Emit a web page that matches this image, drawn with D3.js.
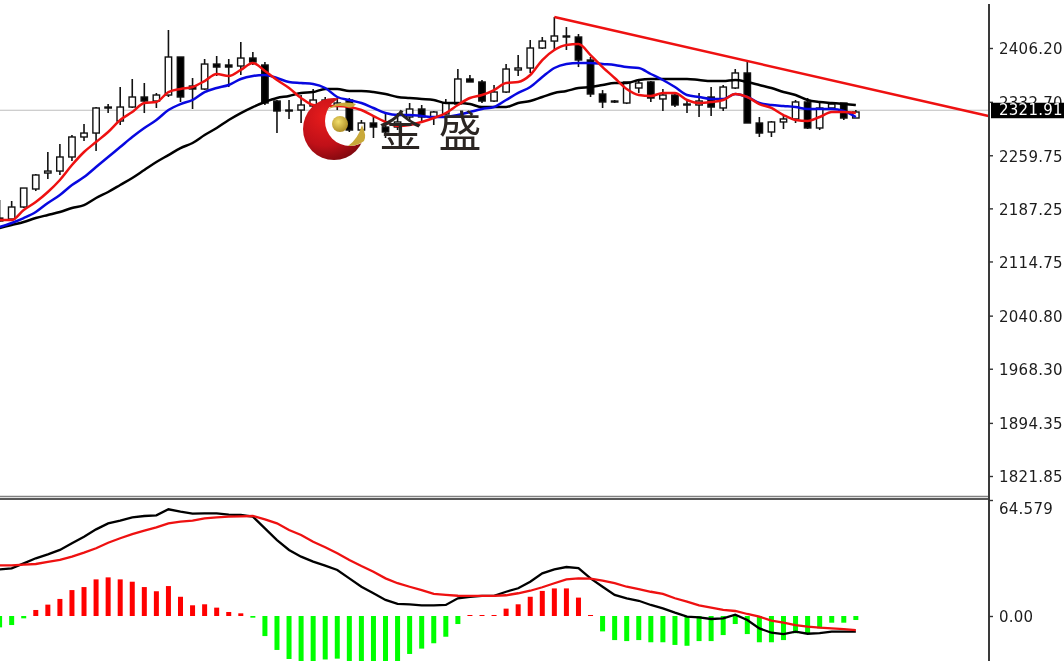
<!DOCTYPE html>
<html><head><meta charset="utf-8">
<script src="https://cdn.jsdelivr.net/npm/d3@7"></script>
<style>html,body{margin:0;padding:0;background:#fff;overflow:hidden}svg{display:block;filter:blur(0.35px)}</style>
</head><body><svg id="c" width="1064" height="661"></svg>
<script>
const openP=[2174,2172.7,2189.1,2213.7,2235.5,2238.2,2257.4,2284.7,2290.1,2325.6,2306.5,2325.6,2339.3,2333.8,2342,2393.9,2354.3,2350.2,2384.3,2383,2381.6,2392.5,2383,2333.8,2321.5,2321.5,2327,2329.7,2327,2335.2,2294.2,2303.8,2298.3,2298.3,2312,2322.9,2312,2316.1,2329.7,2363.9,2359.8,2333.8,2346.1,2376.2,2378.9,2406.2,2415.7,2422.6,2421.2,2389.8,2343.4,2333.8,2331.1,2351.6,2359.8,2336.6,2342,2329.7,2328.4,2339.3,2324.3,2351.6,2372.1,2303.8,2291.5,2305.2,2309.3,2332.5,2297,2324.3,2331.1,2310.6];
const closeP=[2170,2189.1,2215,2232.8,2238.2,2257.4,2284.7,2290.1,2324.3,2324.3,2325.6,2339.3,2333.8,2342,2393.9,2339.3,2350.2,2384.3,2380.2,2380.2,2392.5,2387.1,2331.1,2320.2,2320.2,2328.4,2335.2,2335.2,2331.1,2294.2,2303.8,2298.3,2291.5,2305.2,2322.9,2312,2318.8,2331.1,2363.9,2359.8,2333.8,2346.1,2377.5,2378.9,2406.2,2415.7,2422.6,2421.2,2389.8,2343.4,2332.5,2332.5,2359.8,2358.4,2337.9,2342,2328.4,2328.4,2333.8,2325.6,2352.9,2372.1,2303.8,2290.1,2305.2,2309.3,2332.5,2297,2324.3,2329.7,2310.6,2318.8];
const highP=[2198.6,2197.3,2215,2234.2,2264.2,2275.1,2287.4,2302.4,2325.6,2329.7,2352.9,2363.9,2358.4,2344.8,2430.8,2393.9,2365.2,2391.2,2395.3,2391.2,2414.4,2400.7,2387.1,2335.2,2335.2,2342,2350.2,2339.3,2337.9,2337.9,2307.9,2312,2317.4,2317.4,2331.1,2328.4,2320.2,2336.6,2377.5,2369.3,2362.5,2355.7,2384.3,2396.6,2417.1,2421.2,2448.5,2434.8,2425.3,2393.9,2348.8,2335.2,2359.8,2362.5,2361.1,2350.2,2344.8,2335.2,2344.8,2352.9,2355.7,2377.5,2387.1,2312,2306.5,2314.7,2335.2,2337.9,2333.8,2332.5,2331.1,2321.5];
const lowP=[2168.6,2171.3,2187.7,2210.9,2227.3,2232.8,2251.9,2279.2,2265.5,2317.4,2301.1,2324.3,2317.4,2324.3,2339.3,2332.5,2322.9,2348.8,2368,2352.9,2369.3,2383,2328.4,2290.1,2309.3,2303.8,2321.5,2318.8,2321.5,2291.5,2290.1,2283.3,2283.3,2294.2,2305.2,2303.8,2301.1,2314.7,2328.4,2359.8,2331.1,2332.5,2344.8,2368,2372.1,2404.8,2403.5,2403.5,2380.2,2339.3,2324.3,2331.1,2329.7,2344.8,2332.5,2320.2,2325.6,2317.4,2312,2313.3,2320.2,2350.2,2303.8,2284.7,2284.7,2295.6,2303.8,2295.6,2294.2,2322.9,2307.9,2310.6];
const maFast=[2171.3,2171.3,2185,2195.9,2209.6,2226,2246.4,2264.2,2277.9,2291.5,2307.9,2318.8,2331.1,2332.5,2346.1,2350.2,2352.9,2361.1,2370.7,2368,2376.2,2385.7,2374.8,2362.5,2351.6,2337.9,2328.4,2327,2327,2325.6,2321.5,2313.3,2305.2,2299.7,2301.1,2305.2,2310.6,2317.4,2328.4,2337.9,2342,2348.8,2358.4,2359.8,2369.3,2389.8,2403.5,2410.3,2411.6,2396.6,2380.2,2365.2,2350.2,2342,2340.7,2344.8,2344.8,2335.2,2331.1,2332.5,2335.2,2343.4,2339.3,2329.7,2324.3,2314.7,2307.9,2306.5,2312,2318.8,2318.8,2317.4];
const maMid=[2161.8,2167.3,2174,2182.3,2194.6,2205.5,2219.1,2230,2243.7,2257.4,2271,2284.7,2297,2307.9,2321.5,2329.7,2335.2,2346.1,2351.6,2355.7,2363.9,2368,2369.3,2365.2,2359.8,2358.4,2357,2351.6,2339.3,2335.2,2331.1,2324.3,2317.4,2314.7,2314.7,2313.3,2312,2312,2314.7,2318.8,2322.9,2325.6,2335.2,2344.8,2352.9,2366.6,2378.9,2384.3,2385.7,2385.7,2384.3,2383,2380.2,2378.9,2370.7,2362.5,2352.9,2342,2339.3,2336.6,2336.6,2343.4,2339.3,2331.1,2328.4,2327,2325.6,2322.9,2322.9,2322.9,2320.2,2312];
const maSlow=[2160.4,2164.5,2168.6,2174,2178.2,2182.3,2187.7,2191.8,2201.4,2209.6,2219.1,2228.7,2239.6,2250.5,2260,2269.6,2276.5,2287.4,2297,2307.9,2317.4,2325.6,2332.5,2337.9,2340.7,2344.8,2346.1,2350.2,2350.2,2347.5,2347.5,2346.1,2343.4,2339.3,2337.9,2336.6,2335.2,2331.1,2331.1,2329.7,2325.6,2325.6,2325.6,2331.1,2333.8,2339.3,2344.8,2347.5,2351.6,2352.9,2355.7,2358.4,2358.4,2362.5,2363.9,2363.9,2363.9,2363.9,2362.5,2361.1,2361.1,2362.5,2359.8,2355.7,2351.6,2346.1,2342,2335.2,2332.5,2331.1,2329.7,2328.4];
const trendIndex=[46,82];
const trendPrice=[2448.5,2313.3];
const macdLine=[27.9,28.5,31.5,34.5,36.9,39.5,43.5,47.4,51.8,55.4,57,59,59.8,60.2,63.8,62.4,61.2,61.4,61.4,60.6,60.4,59.4,52.4,45.4,39.5,35.5,32.5,30.1,27.5,22.5,17.5,13.6,9.6,7.2,7,6.4,6.4,6.6,10.6,11.5,12,12,14.5,16.6,20.5,25.5,27.9,29.3,28.7,22.5,17.5,12.6,10.6,9.1,6.6,4.6,2,-0.4,-0.8,-1.8,-1.4,0.8,-2.4,-7.4,-10,-10.8,-9.4,-10.6,-10.3,-9.4,-9.4,-9.4];
const signalLine=[30.3,30.3,30.7,31.1,32.3,33.5,35.5,37.9,40.5,43.8,46.5,49,51,53,55.4,56.4,57,58.4,59,59.4,59.6,59.8,57.8,55.4,51.4,48.4,44.4,41.1,37.5,33.5,29.9,26.5,22.5,19.6,17.5,15.5,13.2,12.6,12.1,12,12,12,12.4,13.6,15.1,17.2,19.6,21.9,22.5,22.3,21.1,19.6,17.5,16,14.5,13.2,10.6,8.6,6.4,5,3.6,3,1.2,-0.4,-2.8,-4,-5.4,-6.4,-7,-7.4,-7.8,-8.4];
const histogram=[-6.8,-5.4,-1.4,3.6,6.8,10.2,15.5,17.3,21.9,23.1,21.9,20.5,17.3,14.8,17.9,11.5,6.4,7,5,2.4,1.6,-1,-12,-20.3,-25.7,-28,-29,-26,-25.5,-28,-29,-30,-29,-28,-22.7,-19.5,-16.3,-12.4,-4.8,0.6,0.6,0.6,4.4,7,11.5,15,16.5,16.5,11,0.6,-9.2,-14.4,-15,-14.4,-15.7,-15.7,-17.3,-17.8,-15,-15,-11.4,-4.8,-10.8,-15.7,-15.7,-14.4,-10.3,-10.3,-7.4,-4,-4,-2.4];
const priceTicks=[2406.20,2332.70,2259.75,2187.25,2114.75,2040.80,1968.30,1894.35,1821.85];
const macdTicks=[64.579,0];
const macdTickLabels=["64.579","0.00"];
const lastPrice=2321.91;

const svg=d3.select("#c");
const W=1064,H=661,axisX=989;
const x=d3.scaleLinear().domain([0,82]).range([-0.4,988.5]);
const y=d3.scaleLinear().domain([2406.2,1821.85]).range([48,476]);
const yM=d3.scaleLinear().domain([64.579,0]).range([508,616]);
const idx=d3.range(openP.length);
const defs=svg.append("defs");
defs.append("clipPath").attr("id","main").append("rect").attr("x",0).attr("y",0).attr("width",axisX).attr("height",496);
defs.append("clipPath").attr("id","sub").append("rect").attr("x",0).attr("y",500).attr("width",axisX).attr("height",161);

const main=svg.append("g").attr("clip-path","url(#main)");
main.append("line").attr("x1",0).attr("x2",axisX).attr("y1",y(lastPrice)+0.5).attr("y2",y(lastPrice)+0.5).attr("stroke","#bdbdbd").attr("stroke-width",1);

const candle=main.append("g").selectAll("g").data(idx).join("g");
candle.append("line").attr("x1",i=>x(i)).attr("x2",i=>x(i)).attr("y1",i=>y(highP[i])).attr("y2",i=>y(lowP[i])).attr("stroke","#111").attr("stroke-width",1.6);
candle.append("rect").attr("x",i=>x(i)-3.2).attr("width",6.4)
  .attr("y",i=>y(Math.max(openP[i],closeP[i])))
  .attr("height",i=>Math.max(1,Math.abs(y(openP[i])-y(closeP[i]))))
  .attr("fill",i=>closeP[i]>=openP[i]?"#fff":"#000")
  .attr("stroke","#111").attr("stroke-width",1.4);

const line=d3.line().x((d,i)=>x(i)).y(d=>y(d)).curve(d3.curveMonotoneX);
[[maSlow,"#000"],[maMid,"#0808e0"],[maFast,"#ee1111"]].forEach(([s,c])=>{
  main.append("path").attr("d",line(s)).attr("fill","none").attr("stroke",c).attr("stroke-width",2.5);
});
main.append("line").attr("x1",x(trendIndex[0])).attr("x2",x(trendIndex[1])).attr("y1",y(trendPrice[0])).attr("y2",y(trendPrice[1])).attr("stroke","#ee1111").attr("stroke-width",2.5);

// watermark logo
const rg=defs.append("radialGradient").attr("id","ball").attr("cx","0.35").attr("cy","0.3").attr("r","0.85");
rg.append("stop").attr("offset","0").attr("stop-color","#e81c1c");
rg.append("stop").attr("offset","0.55").attr("stop-color","#c01018");
rg.append("stop").attr("offset","1").attr("stop-color","#6a060c");
const gg=defs.append("radialGradient").attr("id","gold").attr("cx","0.4").attr("cy","0.35").attr("r","0.75");
gg.append("stop").attr("offset","0").attr("stop-color","#f2de6a");
gg.append("stop").attr("offset","1").attr("stop-color","#a5831c");
const m=defs.append("mask").attr("id","cres");
m.append("rect").attr("x",290).attr("y",85).attr("width",100).attr("height",90).attr("fill","#fff");
m.append("circle").attr("cx",350).attr("cy",121).attr("r",25).attr("fill","#000");
const logo=svg.append("g");
logo.append("circle").attr("cx",334).attr("cy",129).attr("r",31).attr("fill","url(#ball)").attr("mask","url(#cres)");
logo.append("circle").attr("cx",340).attr("cy",124).attr("r",8).attr("fill","url(#gold)");
logo.append("path").attr("d","M326 111 Q338 99 356 104 Q352 109 347 107 Q336 104 326 111Z").attr("fill","#c9a93a");
logo.append("path").attr("d","M348 146 Q358 139 362 125 Q367 136 364 141 Q358 146 348 146Z").attr("fill","#c9a93a");
const wm=svg.append("g").attr("font-family","'Noto Sans CJK SC'").attr("font-size",43).attr("fill","#2b2522").attr("text-anchor","middle");
wm.append("text").attr("x",400.5).attr("y",147).text("金");
wm.append("text").attr("x",460).attr("y",147).text("盛");

// MACD panel
const sub=svg.append("g").attr("clip-path","url(#sub)");
sub.selectAll("rect").data(idx).join("rect")
  .attr("x",i=>x(i)-2.5).attr("width",5)
  .attr("y",i=>Math.min(yM(0),yM(histogram[i])))
  .attr("height",i=>Math.abs(yM(histogram[i])-yM(0)))
  .attr("fill",i=>histogram[i]>=0?"#ff0000":"#00ff00");
const mLine=d3.line().x((d,i)=>x(i)).y(d=>yM(d));
sub.append("path").attr("d",mLine(macdLine)).attr("fill","none").attr("stroke","#000").attr("stroke-width",2.3);
sub.append("path").attr("d",mLine(signalLine)).attr("fill","none").attr("stroke","#ee1111").attr("stroke-width",2.3);

// frame
svg.append("line").attr("x1",0).attr("x2",axisX).attr("y1",496.5).attr("y2",496.5).attr("stroke","#808080").attr("stroke-width",1.4);
svg.append("line").attr("x1",0).attr("x2",axisX).attr("y1",499).attr("y2",499).attr("stroke","#222").attr("stroke-width",1.5);
svg.append("line").attr("x1",axisX).attr("x2",axisX).attr("y1",4).attr("y2",H).attr("stroke","#3a3a3a").attr("stroke-width",2);

// axes
function styleAxis(g){
  g.select(".domain").remove();
  g.selectAll(".tick line").attr("stroke","#333").attr("stroke-width",1.4);
  g.selectAll(".tick text").attr("fill","#1c1c1c").attr("font-family","'DejaVu Sans'").attr("font-size",15).attr("letter-spacing",0.25).attr("x",10).attr("y",1);
}
svg.append("g").attr("transform",`translate(${axisX},0)`)
  .call(d3.axisRight(y).tickValues(priceTicks).tickFormat(d3.format(".2f")).tickSize(4))
  .call(styleAxis);
svg.append("g").attr("transform",`translate(${axisX},0)`)
  .call(d3.axisRight(yM).tickValues(macdTicks).tickFormat((d,i)=>macdTickLabels[i]).tickSize(4))
  .call(styleAxis)
  .call(g=>g.selectAll(".tick line").filter(d=>d>0).attr("y1",-8).attr("y2",-8));

// current price box
const py=y(lastPrice);
svg.append("rect").attr("x",991).attr("y",py-7).attr("width",73).attr("height",15.5).attr("fill","#000");
svg.append("text").attr("x",999).attr("y",py+1.2).attr("dominant-baseline","middle").attr("fill","#fff")
  .attr("font-family","'DejaVu Sans'").attr("font-size",15).attr("letter-spacing",0.25).text(lastPrice.toFixed(2));
</script></body></html>
